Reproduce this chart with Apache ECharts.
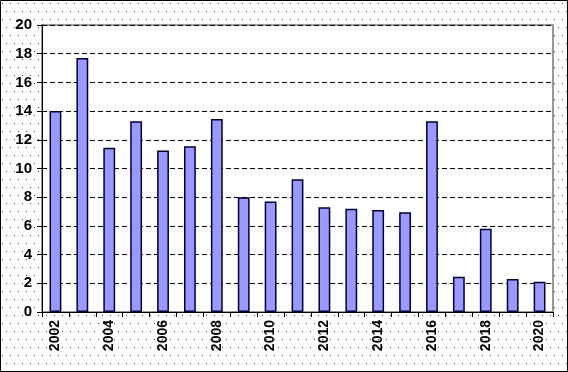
<!DOCTYPE html>
<html><head><meta charset="utf-8">
<script src="https://cdn.jsdelivr.net/npm/echarts@6/dist/echarts.min.js"></script>
<style>html,body{margin:0;padding:0;background:#fff}#c{width:568px;height:372px}</style>
</head><body><div id="c"></div>
<script>
const years = ['2002','2003','2004','2005','2006','2007','2008','2009','2010','2011','2012','2013','2014','2015','2016','2017','2018','2019','2020'];
const values = [14.0,17.7,11.45,13.3,11.25,11.55,13.45,8.0,7.7,9.25,7.3,7.2,7.1,6.95,13.3,2.45,5.8,2.3,2.1];
const yTicks = [0,2,4,6,8,10,12,14,16,18,20];

const pc = document.createElement('canvas');
pc.width = 8; pc.height = 16;
const g = pc.getContext('2d');
g.fillStyle = '#fff'; g.fillRect(0,0,8,16);
g.fillStyle = '#444';
g.fillRect(2,3,1,1);
g.fillRect(6,11,1,1);

const chart = echarts.init(document.getElementById('c'), null, {renderer:'canvas'});
chart.setOption({
  backgroundColor: {image: pc, repeat: 'repeat'},
  animation: false,
  grid: {left: 42, right: 15, top: 25, bottom: 60, show: true, backgroundColor: '#fff', borderColor: '#999', borderWidth: 2},
  xAxis: {
    type: 'category', data: years,
    axisLine: {lineStyle: {color: '#000', width: 1}},
    axisTick: {show: true, alignWithLabel: false, interval: 0, length: 5, lineStyle: {color:'#000'}},
    axisLabel: {interval: 1, rotate: 90, color: '#000', fontFamily: 'Liberation Sans, Arial', fontWeight: 'bold', fontSize: 14, margin: 8}
  },
  yAxis: {
    type: 'value', min: 0, max: 20, interval: 2,
    axisLine: {show: true, lineStyle: {color: '#000', width: 1}},
    axisTick: {show: true, length: 5, lineStyle: {color:'#000'}},
    axisLabel: {color: '#000', fontFamily: 'Liberation Sans, Arial', fontWeight: 'bold', fontSize: 15, margin: 10,
      formatter: v => yTicks.includes(v) ? String(v) : ''},
    splitLine: {show: true, lineStyle: {color: '#000', type: [5,3], width: 1}}
  },
  series: [{
    type: 'bar', data: values, barWidth: '44%',
    itemStyle: {color: '#9999ff', borderColor: '#000033', borderWidth: 1.5}
  }],
  graphic: [{type:'rect', shape:{x:0.5,y:0.5,width:567,height:371}, style:{fill:'none', stroke:'#000', lineWidth:1}, silent:true}]
});
</script></body></html>
